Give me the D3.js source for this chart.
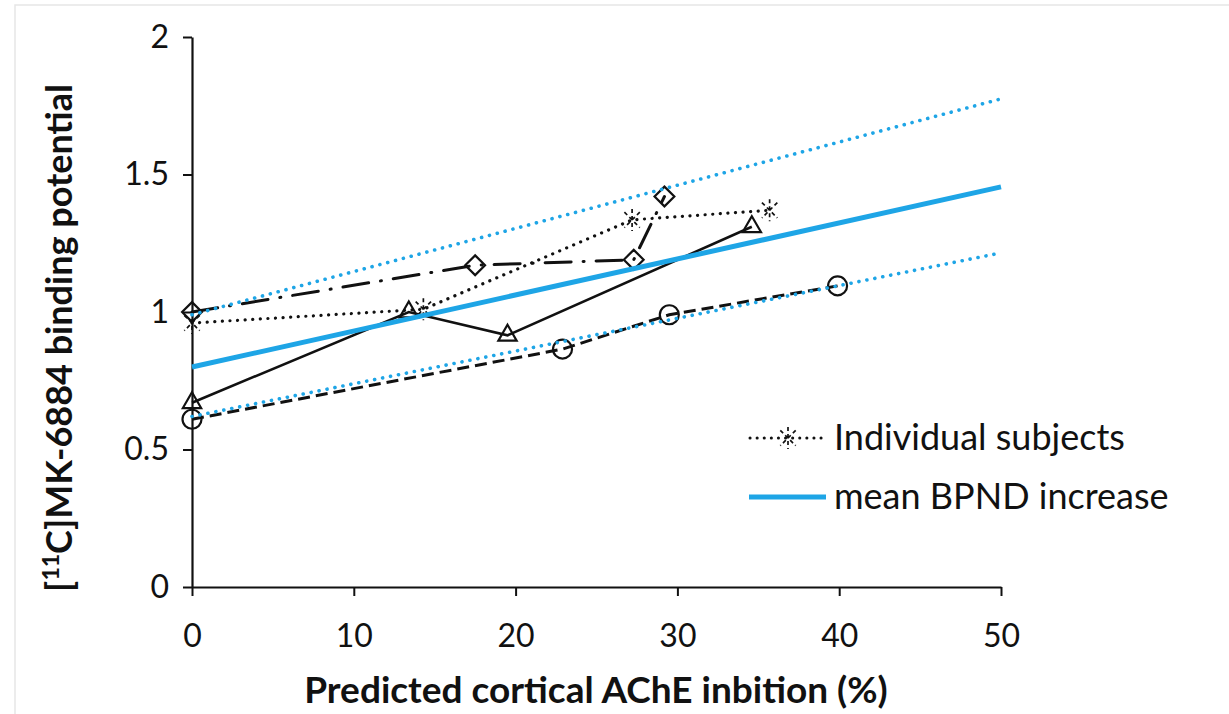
<!DOCTYPE html>
<html>
<head>
<meta charset="utf-8">
<script src="https://cdn.jsdelivr.net/npm/d3@7"></script>
<style>
  body { margin: 0; background: #fff; }
  text { font-family: Lato, "Open Sans", sans-serif; fill: #111; }
</style>
</head>
<body>
<script>
// individual subjects: x = predicted AChE inhibition (%), y = BPND
var asteriskX = [0, 14.3, 27.2, 35.7];
var asteriskY = [0.96, 1.01, 1.335, 1.37];
var diamondX = [0, 17.5, 27.3, 29.2];
var diamondY = [1.0, 1.17, 1.19, 1.42];
var triangleX = [0, 13.4, 19.5, 34.6];
var triangleY = [0.67, 1.0, 0.915, 1.31];
var circleX = [0, 22.9, 29.5, 39.9];
var circleY = [0.61, 0.865, 0.99, 1.095];

// mean increase with upper / lower bounds
var fitX = [0, 50];
var meanY = [0.80, 1.455];
var upperY = [0.99, 1.775];
var lowerY = [0.62, 1.215];

var xTicks = [0, 10, 20, 30, 40, 50];
var yTicks = [0, 0.5, 1, 1.5, 2];
var legendLabels = ["Individual subjects", "mean BPND increase"];

var width = 1229, height = 714;
var margin = {left: 192, right: 228, top: 37, bottom: 127};
var blue = "#1ea5e6";

var svg = d3.select("body").append("svg")
    .attr("width", width)
    .attr("height", height);

// faint frame of the original picture
svg.append("path")
    .attr("d", "M15," + height + "V5H" + width)
    .attr("fill", "none")
    .attr("stroke", "#e6e6e6")
    .attr("stroke-width", 1.5);

var x = d3.scaleLinear().domain([0, 50]).range([margin.left, width - margin.right]);
var y = d3.scaleLinear().domain([0, 2]).range([height - margin.bottom, margin.top]);

// axes
var xAxis = svg.append("g")
    .attr("transform", "translate(0," + y(0) + ")")
    .call(d3.axisBottom(x).tickValues(xTicks).tickSize(9).tickPadding(28).tickSizeOuter(0));
var yAxis = svg.append("g")
    .attr("transform", "translate(" + x(0) + ",0)")
    .call(d3.axisLeft(y).tickValues(yTicks).tickSize(9).tickPadding(14).tickSizeOuter(0)
      .tickFormat(function(d) { return d; }));

[xAxis, yAxis].forEach(function(g) {
  g.select(".domain").attr("stroke", "#111").attr("stroke-width", 2.2);
  g.selectAll(".tick line").attr("stroke", "#111").attr("stroke-width", 2);
  g.selectAll(".tick text").style("font-size", "32px").attr("fill", "#111");
});

// axis titles
svg.append("text")
    .attr("x", 596).attr("y", 703)
    .attr("text-anchor", "middle")
    .style("font-size", "37px").style("font-weight", "bold")
    .text("Predicted cortical AChE inbition (%)");

var yTitle = svg.append("text")
    .attr("transform", "translate(72," + 338 + ") rotate(-90)")
    .attr("text-anchor", "middle")
    .style("font-size", "36px").style("font-weight", "bold");
yTitle.append("tspan").text("[");
yTitle.append("tspan").attr("dy", -13).style("font-size", "23px").text("11");
yTitle.append("tspan").attr("dy", 13).text("C]MK-6884 binding potential");

var line = d3.line()
    .x(function(d) { return x(d[0]); })
    .y(function(d) { return y(d[1]); });

function pairs(xs, ys) {
  return xs.map(function(v, i) { return [v, ys[i]]; });
}

// marker shapes
function drawMarker(g, kind, cx, cy) {
  if (kind === "circle") {
    g.append("circle").attr("cx", cx).attr("cy", cy).attr("r", 9.5);
  } else if (kind === "diamond") {
    g.append("path").attr("d", d3.symbol().type(d3.symbolDiamond2).size(250)()).attr("transform", "translate(" + cx + "," + cy + ")");
  } else if (kind === "triangle") {
    g.append("path").attr("d", d3.symbol().type(d3.symbolTriangle2).size(240)()).attr("transform", "translate(" + cx + "," + cy + ")");
  } else if (kind === "asterisk") {
    var r = 11;
    g.append("path")
      .attr("d", "M" + (cx - r * 0.7) + "," + (cy - r * 0.7) + "L" + (cx + r * 0.7) + "," + (cy + r * 0.7) +
                 "M" + (cx + r * 0.7) + "," + (cy - r * 0.7) + "L" + (cx - r * 0.7) + "," + (cy + r * 0.7) +
                 "M" + cx + "," + (cy - r) + "L" + cx + "," + (cy + r))
      .attr("stroke-width", 1.7)
      .attr("stroke-dasharray", "4,3");
  }
}

var subjects = [
  {kind: "asterisk", data: pairs(asteriskX, asteriskY), dash: "0.1,7.5", cap: "round", w: 3.2},
  {kind: "diamond", data: pairs(diamondX, diamondY), dash: "26,12,1,12", cap: "round", w: 3},
  {kind: "triangle", data: pairs(triangleX, triangleY), dash: null, cap: "butt", w: 2.6},
  {kind: "circle", data: pairs(circleX, circleY), dash: "12,6", cap: "butt", w: 3}
];

subjects.forEach(function(s) {
  svg.append("path")
    .datum(s.data)
    .attr("d", line)
    .attr("fill", "none")
    .attr("stroke", "#111")
    .attr("stroke-width", s.w)
    .attr("stroke-linecap", s.cap)
    .attr("stroke-dasharray", s.dash);
  var mg = svg.append("g").attr("fill", "none").attr("stroke", "#111").attr("stroke-width", 2.2);
  s.data.forEach(function(d) { drawMarker(mg, s.kind, x(d[0]), y(d[1])); });
});

// blue fitted lines
svg.append("path").datum(pairs(fitX, upperY)).attr("d", line)
    .attr("fill", "none").attr("stroke", blue).attr("stroke-width", 3.6)
    .attr("stroke-linecap", "round").attr("stroke-dasharray", "0.1,8");
svg.append("path").datum(pairs(fitX, lowerY)).attr("d", line)
    .attr("fill", "none").attr("stroke", blue).attr("stroke-width", 3.6)
    .attr("stroke-linecap", "round").attr("stroke-dasharray", "0.1,8");
svg.append("path").datum(pairs(fitX, meanY)).attr("d", line)
    .attr("fill", "none").attr("stroke", blue).attr("stroke-width", 5);

// legend
var lg = svg.append("g");
lg.append("line").attr("x1", 750).attr("x2", 826).attr("y1", 438).attr("y2", 438)
    .attr("stroke", "#111").attr("stroke-width", 3).attr("stroke-linecap", "round")
    .attr("stroke-dasharray", "0.1,7");
var lm = lg.append("g").attr("fill", "none").attr("stroke", "#111").attr("stroke-width", 2);
drawMarker(lm, "asterisk", 788, 438);
lg.append("line").attr("x1", 749).attr("x2", 826).attr("y1", 497).attr("y2", 497)
    .attr("stroke", blue).attr("stroke-width", 5);
lg.selectAll("text.leg")
    .data(legendLabels)
    .enter().append("text")
    .attr("class", "leg")
    .attr("x", 834)
    .attr("y", function(d, i) { return 450 + i * 59; })
    .style("font-size", "36px")
    .text(function(d) { return d; });
</script>
</body>
</html>
